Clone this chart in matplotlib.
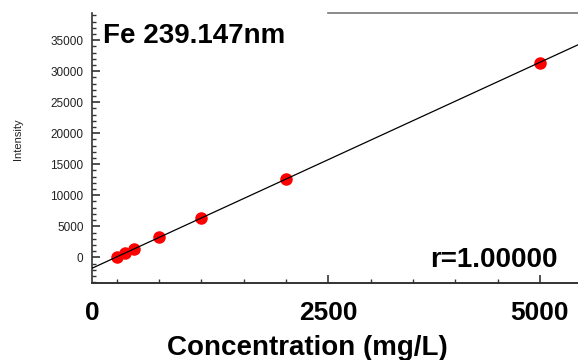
import numpy as np
import matplotlib
matplotlib.use("Agg")
import matplotlib.pyplot as plt
from matplotlib.ticker import MultipleLocator

plt.rcParams["font.family"] = ["Liberation Sans", "DejaVu Sans"]

# calibration standards
conc = [0, 100, 200, 500, 1000, 2000, 5000]
intensity = [100, 650, 1300, 3200, 6400, 12700, 31400]

x_ticks = [2500, 5000]
x_ticklabels = ["2500", "5000"]
y_ticks = [0, 5000, 10000, 15000, 20000, 25000, 30000, 35000]

fig = plt.figure(figsize=(5.78, 3.6), dpi=100)
ax = fig.add_axes([0.159, 0.213, 0.841, 0.752])

ax.set_xlim(-295, 5450)
ax.set_ylim(-4190, 39450)

# regression line across the full x range
slope, icept = np.polyfit(conc, intensity, 1)
xl = np.array(ax.get_xlim())
ax.plot(xl, slope * xl + icept, color="black", lw=0.9, zorder=3)
ax.plot(conc, intensity, "o", color="#ff0000", ms=8, mec="#ff0000", zorder=2)

ax.set_xticks(x_ticks)
ax.set_xticklabels(x_ticklabels, fontsize=19, fontweight="bold")
ax.set_yticks(y_ticks)
ax.set_yticklabels([str(v) for v in y_ticks], fontsize=8.5)
ax.xaxis.set_minor_locator(MultipleLocator(500))
ax.yaxis.set_minor_locator(MultipleLocator(1000))

ax.tick_params(axis="both", which="both", direction="in", color="#333333")
ax.tick_params(axis="x", which="major", length=6, width=1.2, pad=13,
               labelcolor="black")
ax.tick_params(axis="x", which="minor", length=3, width=1)
ax.tick_params(axis="y", which="major", length=6, width=1.2, pad=6,
               labelcolor="#222222")
ax.tick_params(axis="y", which="minor", length=3, width=1)

ax.spines["right"].set_visible(False)
ax.spines["left"].set_color("#333333")
ax.spines["left"].set_linewidth(1.2)
ax.spines["bottom"].set_color("#333333")
ax.spines["bottom"].set_linewidth(1.4)
ax.spines["top"].set_color("#777777")
ax.spines["top"].set_linewidth(1.2)
ax.spines["top"].set_bounds(2500, 5450)

# "0" label sits at the left edge of the axis in the original
ax.text(0.0, -0.065, "0", transform=ax.transAxes, ha="center", va="top",
        fontsize=19, fontweight="bold", color="black")

fig.text(0.178, 0.881, "Fe 239.147nm", fontsize=20, fontweight="bold",
         ha="left", va="baseline")
fig.text(0.965, 0.258, "r=1.00000", fontsize=20, fontweight="bold",
         ha="right", va="baseline")
fig.text(0.531, 0.014, "Concentration (mg/L)", fontsize=20, fontweight="bold",
         ha="center", va="baseline")
fig.text(0.031, 0.614, "Intensity", fontsize=8, rotation=90,
         ha="center", va="center", color="#222222")

plt.savefig("out.png", dpi=100)
